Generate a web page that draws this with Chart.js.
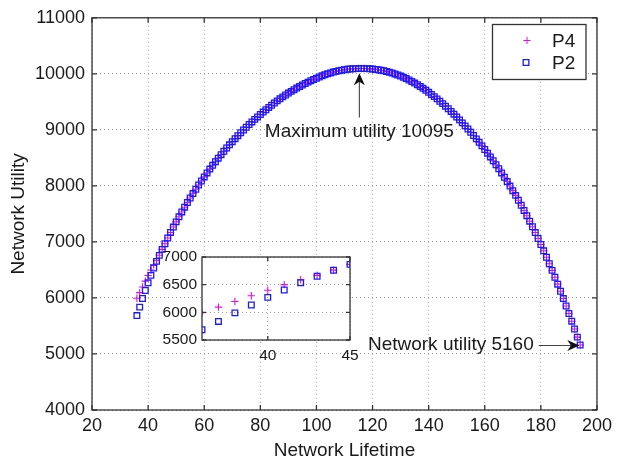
<!DOCTYPE html>
<html><head><meta charset="utf-8">
<script src="https://cdn.jsdelivr.net/npm/chart.js@4.4.0/dist/chart.umd.min.js"></script>
<style>
html,body{margin:0;padding:0;background:#fff;}
#wrap{position:relative;width:617px;height:462px;}
canvas{position:absolute;left:0;top:0;}
</style></head><body>
<div id="wrap"><canvas id="main" width="617" height="462"></canvas><canvas id="inset" width="617" height="462"></canvas></div>
<script>
// ---- data ----
const lifetime = [36,37,38,39,40,41,42,43,44,45,46,47,48,49,50,51,52,53,54,55,56,57,58,59,60,61,62,63,64,65,66,67,68,69,70,71,72,73,74,75,76,77,78,79,80,81,82,83,84,85,86,87,88,89,90,91,92,93,94,95,96,97,98,99,100,101,102,103,104,105,106,107,108,109,110,111,112,113,114,115,116,117,118,119,120,121,122,123,124,125,126,127,128,129,130,131,132,133,134,135,136,137,138,139,140,141,142,143,144,145,146,147,148,149,150,151,152,153,154,155,156,157,158,159,160,161,162,163,164,165,166,167,168,169,170,171,172,173,174,175,176,177,178,179,180,181,182,183,184,185,186,187,188,189,190,191,192,193,194];
const utilityP2 = [5685,5836,5990,6133,6270,6403,6535,6653,6760,6867,6968,7070,7169,7265,7358,7448,7535,7620,7703,7784,7863,7940,8015,8088,8160,8231,8300,8367,8432,8495,8557,8617,8676,8733,8789,8843,8896,8948,8998,9047,9095,9142,9187,9231,9274,9317,9359,9400,9440,9479,9517,9554,9589,9623,9656,9687,9717,9746,9774,9801,9827,9852,9876,9899,9921,9943,9964,9983,10000,10016,10031,10044,10055,10065,10074,10081,10086,10090,10093,10094,10095,10094,10093,10089,10085,10079,10072,10064,10054,10043,10030,10015,9998,9980,9960,9938,9915,9890,9863,9835,9805,9774,9741,9706,9670,9632,9593,9553,9511,9468,9423,9377,9329,9280,9230,9178,9125,9071,9015,8958,8899,8839,8777,8714,8650,8584,8517,8448,8377,8305,8231,8155,8077,7997,7915,7831,7744,7654,7562,7468,7370,7270,7167,7061,6953,6841,6727,6611,6492,6370,6246,6119,5989,5857,5723,5585,5445,5301,5160];
const utilityP4 = [5995,6095,6196,6300,6400,6500,6590,6668,6762,6867,6968,7070,7169,7265,7358,7448,7535,7620,7703,7784,7863,7940,8015,8088,8160,8231,8300,8367,8432,8495,8557,8617,8676,8733,8789,8843,8896,8948,8998,9047,9095,9142,9187,9231,9274,9317,9359,9400,9440,9479,9517,9554,9589,9623,9656,9687,9717,9746,9774,9801,9827,9852,9876,9899,9921,9943,9964,9983,10000,10016,10031,10044,10055,10065,10074,10081,10086,10090,10093,10094,10095,10094,10093,10089,10085,10079,10072,10064,10054,10043,10030,10015,9998,9980,9960,9938,9915,9890,9863,9835,9805,9774,9741,9706,9670,9632,9593,9553,9511,9468,9423,9377,9329,9280,9230,9178,9125,9071,9015,8958,8899,8839,8777,8714,8650,8584,8517,8448,8377,8305,8231,8155,8077,7997,7915,7831,7744,7654,7562,7468,7370,7270,7167,7061,6953,6841,6727,6611,6492,6370,6246,6119,5989,5857,5723,5585,5445,5301,5160];
const seriesNames = ['P4','P2'];
const xRange = [20, 200], xStep = 20;
const yRange = [4000, 11000], yStep = 1000;
const insetXRange = [36, 45], insetXTicks = [40, 45];
const insetYRange = [5500, 7000], insetYStep = 500;
const insetCount = 10;
const maxLabel = 'Maximum utility 10095';
const endLabel = 'Network utility 5160';
const xTitle = 'Network Lifetime', yTitle = 'Network Utility';

const FONT = '"Liberation Sans", Arial, sans-serif';
const TXT = '#1a1a1a';
const C_P4 = '#e010e0', C_P2 = '#1a1aff';
const BOX = '#333333';

function pts(xs, ys, n) { const o = []; for (let i = 0; i < (n || xs.length); i++) o.push({x: xs[i], y: ys[i]}); return o; }

function boxPlugin(tickLen) {
  return {
    id: 'box',
    beforeDraw(chart, args, opts) {
      if (opts && opts.fill) {
        const a = chart.chartArea, c = chart.ctx;
        c.save(); c.fillStyle = '#fff'; c.fillRect(a.left, a.top, a.right - a.left, a.bottom - a.top); c.restore();
      }
    },
    afterDatasetsDraw(chart) {
      const a = chart.chartArea, c = chart.ctx, xs = chart.scales.x, ys = chart.scales.y;
      c.save(); c.strokeStyle = BOX; c.lineWidth = 1.3;
      c.beginPath();
      xs.ticks.forEach(t => { const p = xs.getPixelForValue(t.value);
        c.moveTo(p, a.bottom); c.lineTo(p, a.bottom - tickLen); c.moveTo(p, a.top); c.lineTo(p, a.top + tickLen); });
      ys.ticks.forEach(t => { const p = ys.getPixelForValue(t.value);
        c.moveTo(a.left, p); c.lineTo(a.left + tickLen, p); c.moveTo(a.right, p); c.lineTo(a.right - tickLen, p); });
      c.stroke();
      c.strokeRect(a.left, a.top, a.right - a.left, a.bottom - a.top);
      c.restore();
    }
  };
}

function arrow(c, x1, y1, x2, y2) {
  const dx = x2 - x1, dy = y2 - y1, L = Math.hypot(dx, dy), ux = dx / L, uy = dy / L, nx = -uy, ny = ux;
  const hl = 12, hw = 5.5;
  c.save();
  c.strokeStyle = '#444'; c.lineWidth = 1.1;
  c.beginPath(); c.moveTo(x1, y1); c.lineTo(x2 - ux * 6, y2 - uy * 6); c.stroke();
  c.fillStyle = '#111';
  c.beginPath();
  c.moveTo(x2, y2);
  c.lineTo(x2 - ux * hl + nx * hw, y2 - uy * hl + ny * hw);
  c.lineTo(x2 - ux * hl * 0.7, y2 - uy * hl * 0.7);
  c.lineTo(x2 - ux * hl - nx * hw, y2 - uy * hl - ny * hw);
  c.closePath(); c.fill();
  c.restore();
}

function marker(c, style, color, r, bw, x, y) {
  c.save(); c.strokeStyle = color; c.fillStyle = 'rgba(0,0,0,0)'; c.lineWidth = bw;
  if (Chart.helpers && Chart.helpers.drawPoint) {
    Chart.helpers.drawPoint(c, {pointStyle: style, radius: r, borderWidth: bw, rotation: 0}, x, y);
  }
  c.restore();
}

const annotPlugin = {
  id: 'annot',
  afterDraw(chart) {
    const c = chart.ctx, xs = chart.scales.x, ys = chart.scales.y;
    c.save();
    c.font = '19px ' + FONT; c.fillStyle = TXT; c.textAlign = 'center'; c.textBaseline = 'middle';
    c.fillText(maxLabel, xs.getPixelForValue(115.3), ys.getPixelForValue(8962));
    arrow(c, xs.getPixelForValue(115.3), ys.getPixelForValue(9220), xs.getPixelForValue(115.3), ys.getPixelForValue(10010));
    c.font = '19px ' + FONT; c.fillStyle = TXT; c.textAlign = 'center'; c.textBaseline = 'middle';
    c.fillText(endLabel, xs.getPixelForValue(147.9), ys.getPixelForValue(5170));
    arrow(c, xs.getPixelForValue(179.2), ys.getPixelForValue(5150), xs.getPixelForValue(193.7), ys.getPixelForValue(5150));
    // legend
    c.fillStyle = '#fff'; c.fillRect(492.5, 24.5, 93.5, 55);
    c.strokeStyle = BOX; c.lineWidth = 1.3; c.strokeRect(492.5, 24.5, 93.5, 55);
    marker(c, 'cross', C_P4, 3.6, 1, 527, 40.5);
    marker(c, 'rect', C_P2, 4.0, 1.3, 526, 62.5);
    c.font = '19px ' + FONT; c.fillStyle = TXT; c.textAlign = 'left'; c.textBaseline = 'middle';
    c.fillText(seriesNames[0], 552, 41.5);
    c.fillText(seriesNames[1], 552, 63.5);
    c.restore();
  }
};

const gridStyle = {color: '#a0a0a0', lineWidth: 1, drawTicks: false};
const borderStyle = {display: false, dash: [1, 3]};

function datasets(n) {
  return [
    {label: seriesNames[0], data: pts(lifetime, utilityP4, n), showLine: false, pointStyle: 'cross', pointRadius: 3.7,
     pointBorderColor: C_P4, pointBorderWidth: 1.1, pointBackgroundColor: 'rgba(0,0,0,0)', order: 1},
    {label: seriesNames[1], data: pts(lifetime, utilityP2, n), showLine: false, pointStyle: 'rect', pointRadius: 4.0,
     pointBorderColor: C_P2, pointBorderWidth: 1.3, pointBackgroundColor: 'rgba(0,0,0,0)', order: 0}
  ];
}

new Chart(document.getElementById('main'), {
  type: 'scatter',
  data: {datasets: datasets()},
  options: {
    responsive: false, animation: false, devicePixelRatio: 1, events: [],
    layout: {padding: {left: 0, top: 15, right: 17, bottom: 0}},
    plugins: {legend: {display: false}, tooltip: {enabled: false}},
    scales: {
      x: {type: 'linear', min: xRange[0], max: xRange[1],
          ticks: {stepSize: xStep, padding: 5, color: TXT, font: {family: FONT, size: 18}, callback: v => String(v), maxRotation: 0},
          grid: gridStyle, border: borderStyle,
          title: {display: true, text: xTitle, color: TXT, font: {family: FONT, size: 19}, padding: {top: 0, bottom: 0}},
          afterFit: s => { s.height = 52; }},
      y: {type: 'linear', min: yRange[0], max: yRange[1],
          ticks: {stepSize: yStep, padding: 7, color: TXT, font: {family: FONT, size: 18}, callback: v => String(v)},
          grid: gridStyle, border: borderStyle,
          title: {display: true, text: yTitle, color: TXT, font: {family: FONT, size: 19}, padding: {top: 7, bottom: 0}},
          afterFit: s => { s.width = 92; }}
    }
  },
  plugins: [boxPlugin(5), annotPlugin]
});

new Chart(document.getElementById('inset'), {
  type: 'scatter',
  data: {datasets: datasets(insetCount)},
  options: {
    responsive: false, animation: false, devicePixelRatio: 1, events: [],
    layout: {padding: {left: 142, top: 257, right: 267, bottom: 82}},
    plugins: {legend: {display: false}, tooltip: {enabled: false}, box: {fill: true}},
    scales: {
      x: {type: 'linear', min: insetXRange[0], max: insetXRange[1],
          afterBuildTicks: s => { s.ticks = insetXTicks.map(v => ({value: v})); },
          ticks: {padding: 6, color: TXT, font: {family: FONT, size: 15.5}, callback: v => String(v), maxRotation: 0},
          grid: gridStyle, border: borderStyle,
          afterFit: s => { s.height = 40; }},
      y: {type: 'linear', min: insetYRange[0], max: insetYRange[1],
          ticks: {stepSize: insetYStep, padding: 5, color: TXT, font: {family: FONT, size: 15.5}, callback: v => String(v)},
          grid: gridStyle, border: borderStyle,
          afterFit: s => { s.width = 60; }}
    }
  },
  plugins: [boxPlugin(4)]
});
</script>
</body></html>
